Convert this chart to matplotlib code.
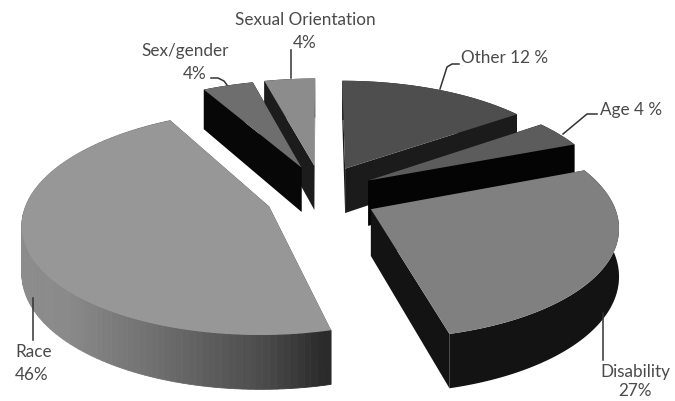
"""Exploded 3D pie of complaint grounds, drawn by hand since matplotlib has no 3D pie."""
import numpy as np
import matplotlib
matplotlib.use("Agg")
import matplotlib.pyplot as plt
from matplotlib.patches import Polygon

# slices clockwise from 12 o'clock; shares are what the wedges measure, the printed labels differ
categories = ["Other", "Age", "Disability", "Race", "Sex/gender", "Sexual Orientation"]
shares = [15, 4, 27, 46, 4, 4]
printed_labels = ["Other 12 %", "Age 4 %", "Disability\n27%", "Race\n46%", "Sex/gender\n4%",
                  "Sexual Orientation\n4%"]

top_colors = ["#4e4e4e", "#5c5c5c", "#808080", "#979797", "#6e6e6e", "#8c8c8c"]
side_colors = ["#1b1b1b", "#040404", "#131313", None, "#070707", "#1c1c1c"]
DRAW_ORDER = ["Sexual Orientation", "Sex/gender", "Other", "Age", "Disability", "Race"]

CENTER = (321, 195)
RX, RY = 240, 107     # plane radii in pixels
PERSP = 0.14          # front of the pie is drawn bigger than the back
DEPTH = 46            # pie thickness in the plane of the center
EXPLODE = 55
EXPLODE_V = 1.25      # explosion reads a bit stronger front to back
TEXT_COLOR = "#4a4a4a"
FONT = "Lato"


def project(px, pv):
    """Plane position (px in pixels, pv in units of the radius) to screen x, y and thickness."""
    s = 1 / (1 + PERSP * pv)
    return CENTER[0] + px * s, CENTER[1] - RY * pv * s, DEPTH * s


def draw_slice(ax, start, stop, top_c, side_c):
    mid = (start + stop) / 2
    off_x = EXPLODE * np.sin(mid)
    off_v = EXPLODE * np.cos(mid) / RX * EXPLODE_V
    ax0, ay0, dep0 = project(off_x, off_v)
    angs = np.linspace(start, stop, 120)
    xs, ys, dep = project(off_x + RX * np.sin(angs), off_v + np.cos(angs))

    # radial cut faces first, the rim and top cover them if they face away
    for i in (0, -1):
        quad = [(ax0, ay0), (xs[i], ys[i]), (xs[i], ys[i] + dep[i]), (ax0, ay0 + dep0)]
        ax.add_patch(Polygon(quad, closed=True, fc=side_c or "#2d2d2d", ec="none"))

    if side_c is None:
        # race rim fades from light on the left to dark on the right
        for i in range(len(angs) - 1):
            g = np.interp(xs[i], [20, 70, 170, 270, 325], [0.55, 0.54, 0.42, 0.29, 0.17])
            strip = [(xs[i], ys[i]), (xs[i + 1], ys[i + 1]),
                     (xs[i + 1], ys[i + 1] + dep[i + 1]), (xs[i], ys[i] + dep[i])]
            ax.add_patch(Polygon(strip, closed=True, fc=str(g), ec=str(g), lw=0.6))
    else:
        rim = list(zip(xs, ys)) + list(zip(xs[::-1], (ys + dep)[::-1]))
        ax.add_patch(Polygon(rim, closed=True, fc=side_c, ec="none"))

    top = [(ax0, ay0)] + list(zip(xs, ys))
    ax.add_patch(Polygon(top, closed=True, fc=top_c, ec="none"))


def main():
    fig = plt.figure(figsize=(6.75, 4.01), dpi=100)
    ax = fig.add_axes([0, 0, 1, 1])
    ax.set_xlim(0, 675)
    ax.set_ylim(401, 0)
    ax.axis("off")

    edges = np.radians(np.cumsum([0] + shares) / sum(shares) * 360)
    for name in DRAW_ORDER:
        i = categories.index(name)
        draw_slice(ax, edges[i], edges[i + 1], top_colors[i], side_colors[i])

    # leader lines
    leaders = [
        ([291, 291], [78, 50]),
        ([227, 224, 218, 211], [85, 81, 78, 78]),
        ([440, 447, 452, 459], [89, 67, 64, 64]),
        ([563, 587, 597], [134, 114, 114]),
        ([603, 603], [313, 360]),
        ([33, 33], [298, 340]),
    ]
    for lx, ly in leaders:
        ax.plot(lx, ly, color="#333333", lw=1.1)

    kw = dict(color=TEXT_COLOR, family=FONT, fontsize=12.3, va="center")
    ax.text(305, 20, "Sexual Orientation", ha="center", **kw)
    ax.text(305, 43, "4%", ha="center", **kw)
    ax.text(185, 51, "Sex/gender", ha="center", **kw)
    ax.text(195, 74, "4%", ha="center", **kw)
    ax.text(461, 58, printed_labels[0], ha="left", **kw)
    ax.text(600, 110, printed_labels[1], ha="left", **kw)
    ax.text(635, 372, "Disability", ha="center", **kw)
    ax.text(635, 391, "27%", ha="center", **kw)
    ax.text(15, 352, "Race", ha="left", **kw)
    ax.text(15, 375, "46%", ha="left", **kw)

    fig.savefig("out.png", dpi=100, facecolor="white")


if __name__ == "__main__":
    main()
